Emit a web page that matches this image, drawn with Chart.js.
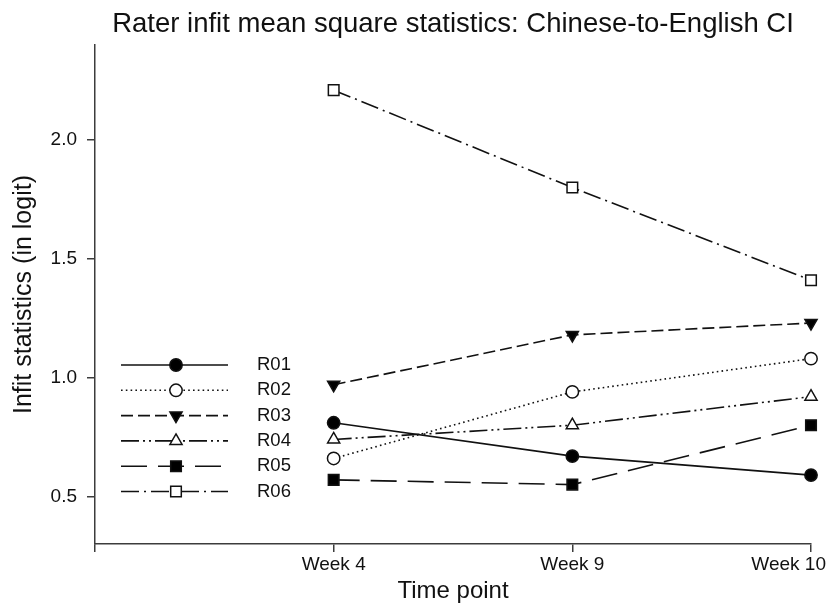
<!DOCTYPE html>
<html>
<head>
<meta charset="utf-8">
<script src="https://cdn.jsdelivr.net/npm/chart.js@4/dist/chart.umd.min.js"></script>
<style>
  html, body { margin: 0; padding: 0; background: #fff; }
  canvas { display: block; }
</style>
</head>
<body>
<canvas id="chart" width="827" height="606"></canvas>
<script>
// Time points on the x axis (the origin tick carries no label)
const timePoints = ['Week 4', 'Week 9', 'Week 10'];

// Rater infit mean square values (logit) at each time point
const raterNames = ['R01', 'R02', 'R03', 'R04', 'R05', 'R06'];
const r01 = [0.81, 0.67, 0.59];
const r02 = [0.66, 0.94, 1.08];
const r03 = [0.97, 1.18, 1.23];
const r04 = [0.74, 0.80, 0.92];
const r05 = [0.57, 0.55, 0.80];
const r06 = [2.21, 1.80, 1.41];

// Y axis ticks
const yTicks = [0.5, 1.0, 1.5, 2.0];

const FONT = '"Liberation Sans", Arial, Helvetica, sans-serif';
const INK = '#111111';
const AXIS = '#3c3c3c';

// Marker and line styling per rater
const styles = [
  { dash: [],                 point: 'circle',   radius: 6.2, rot: 0,   fill: '#000000' },
  { dash: [1.6, 3.2],         point: 'circle',   radius: 6.2, rot: 0,   fill: '#ffffff' },
  { dash: [12, 5],            point: 'triangle', radius: 7,   rot: 180, fill: '#000000' },
  { dash: [18, 4, 2, 4, 2, 4],point: 'triangle', radius: 7,   rot: 0,   fill: '#ffffff' },
  { dash: [26, 11],           point: 'rect',     radius: 7.5, rot: 0,   fill: '#000000' },
  { dash: [18, 5, 2, 5],      point: 'rect',     radius: 7.5, rot: 0,   fill: '#ffffff' }
];

const seriesValues = [r01, r02, r03, r04, r05, r06];

const datasets = raterNames.map((name, i) => ({
  label: name,
  data: [null, ...seriesValues[i]],
  borderColor: '#111111',
  borderWidth: 1.6,
  borderDash: styles[i].dash,
  fill: false,
  tension: 0,
  pointStyle: styles[i].point,
  pointRadius: styles[i].radius,
  pointHoverRadius: styles[i].radius,
  pointRotation: styles[i].rot,
  pointBackgroundColor: styles[i].fill,
  pointBorderColor: '#111111',
  pointBorderWidth: 1.5
}));

// Title centred over the plot area
const titlePlugin = {
  id: 'plotTitle',
  afterDraw(chart) {
    const { ctx, chartArea } = chart;
    ctx.save();
    ctx.fillStyle = INK;
    ctx.font = '27.5px ' + FONT;
    ctx.textAlign = 'center';
    ctx.textBaseline = 'alphabetic';
    ctx.fillText('Rater infit mean square statistics: Chinese-to-English CI',
      (chartArea.left + chartArea.right) / 2, 32);
    ctx.restore();
  }
};

// X tick labels, kept inside the canvas at the right edge
const xLabelPlugin = {
  id: 'xLabels',
  afterDraw(chart) {
    const { ctx } = chart;
    const sx = chart.scales.x;
    ctx.save();
    ctx.fillStyle = INK;
    ctx.font = '19px ' + FONT;
    ctx.textAlign = 'center';
    ctx.textBaseline = 'alphabetic';
    sx.ticks.forEach((t, i) => {
      const label = sx.getLabelForValue(t.value);
      if (!label) return;
      const px = sx.getPixelForTick(i);
      const w = ctx.measureText(label).width;
      const x = Math.min(px, chart.width - 1 - w / 2);
      ctx.fillText(label, x, 570);
    });
    ctx.restore();
  }
};

// Legend drawn inside the plot: line sample, marker, rater name
const legendPlugin = {
  id: 'insetLegend',
  afterDatasetsDraw(chart) {
    const { ctx } = chart;
    chart.data.datasets.forEach((ds, i) => {
      const y = 365 + i * 25.3;
      ctx.save();
      ctx.strokeStyle = ds.borderColor;
      ctx.lineWidth = ds.borderWidth;
      ctx.setLineDash(ds.borderDash || []);
      ctx.beginPath();
      ctx.moveTo(121, y);
      ctx.lineTo(228, y);
      ctx.stroke();
      ctx.setLineDash([]);
      ctx.fillStyle = ds.pointBackgroundColor;
      ctx.strokeStyle = ds.pointBorderColor;
      ctx.lineWidth = ds.pointBorderWidth;
      Chart.helpers.drawPoint(ctx, {
        pointStyle: ds.pointStyle,
        radius: ds.pointRadius,
        rotation: ds.pointRotation,
        borderWidth: ds.pointBorderWidth
      }, 176, y);
      ctx.fillStyle = INK;
      ctx.font = '18.5px ' + FONT;
      ctx.textAlign = 'left';
      ctx.textBaseline = 'middle';
      ctx.fillText(ds.label, 257, y);
      ctx.restore();
    });
  }
};

new Chart(document.getElementById('chart'), {
  type: 'line',
  data: { labels: ['', ...timePoints], datasets },
  plugins: [titlePlugin, xLabelPlugin, legendPlugin],
  options: {
    responsive: false,
    animation: false,
    devicePixelRatio: 1,
    layout: { padding: { top: 45, right: 16, bottom: 0, left: 0 } },
    plugins: {
      legend: { display: false },
      title: { display: false },
      tooltip: { enabled: false }
    },
    scales: {
      x: {
        type: 'category',
        offset: false,
        grid: { display: true, drawOnChartArea: false, drawTicks: true, tickLength: 8, color: AXIS, lineWidth: 1.5 },
        border: { display: true, color: AXIS, width: 1.5 },
        ticks: { display: false },
        title: {
          display: true, text: 'Time point', color: INK,
          font: { family: FONT, size: 24 }, padding: { top: 0, bottom: 0 }
        },
        afterFit(scale) {
          scale.height = 62;
          scale.paddingLeft = 0;
          scale.paddingRight = 0;
        }
      },
      y: {
        type: 'linear',
        min: 0.3,
        max: 2.4,
        grid: { display: true, drawOnChartArea: false, drawTicks: true, tickLength: 8, color: AXIS, lineWidth: 1.5 },
        border: { display: true, color: AXIS, width: 1.5 },
        afterBuildTicks(scale) {
          scale.ticks = yTicks.map(v => ({ value: v }));
        },
        ticks: {
          color: INK,
          font: { family: FONT, size: 19 },
          padding: 10,
          callback: v => Number(v).toFixed(1)
        },
        title: {
          display: true, text: 'Infit statistics (in logit)', color: INK,
          font: { family: FONT, size: 25 }, padding: { top: 9, bottom: 0 }
        },
        afterFit(scale) {
          scale.width = 95;
          scale.paddingTop = 0;
          scale.paddingBottom = 0;
        }
      }
    }
  }
});
</script>
</body>
</html>
